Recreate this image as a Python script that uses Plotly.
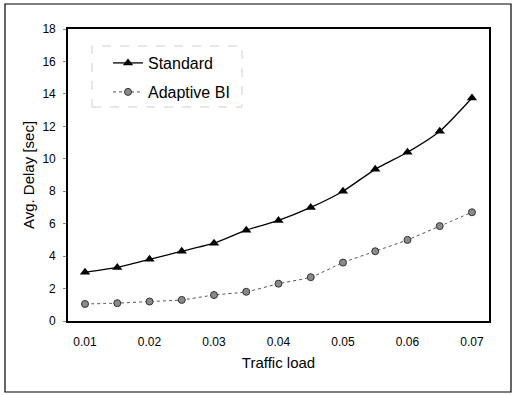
import plotly.graph_objects as go

traffic_load = [0.01, 0.015, 0.02, 0.025, 0.03, 0.035, 0.04, 0.045, 0.05, 0.055, 0.06, 0.065, 0.07]
standard = [3.0, 3.3, 3.8, 4.3, 4.8, 5.6, 6.2, 7.0, 8.0, 9.35, 10.4, 11.7, 13.75]
adaptive_bi = [1.05, 1.1, 1.2, 1.3, 1.6, 1.8, 2.3, 2.7, 3.6, 4.3, 5.0, 5.85, 6.7]
x_ticks = [0.01, 0.02, 0.03, 0.04, 0.05, 0.06, 0.07]
x_tick_labels = ["0.01", "0.02", "0.03", "0.04", "0.05", "0.06", "0.07"]
y_ticks = [0, 2, 4, 6, 8, 10, 12, 14, 16, 18]

L, R, T, B = 68, 23, 29, 74
PW, PH = 512 - L - R, 395 - T - B

def px_x(x):
    return (x - L) / PW

def px_y(y):
    return (395 - B - y) / PH

fig = go.Figure()
fig.add_trace(go.Scatter(
    x=traffic_load, y=standard, name="Standard", mode="lines+markers",
    line=dict(color="black", width=1.3, shape="spline", smoothing=0.6),
    marker=dict(symbol="triangle-up", size=9, color="black"),
    legend="legend",
))
fig.add_trace(go.Scatter(
    x=traffic_load, y=adaptive_bi, name="Adaptive BI", mode="lines+markers",
    line=dict(color="#555555", width=1, dash="dot", shape="spline", smoothing=0.6),
    marker=dict(symbol="circle", size=7, color="#8a8a8a", line=dict(color="#333333", width=1)),
    legend="legend2",
))

leg_common = dict(xanchor="left", yanchor="middle", borderwidth=0,
                  bgcolor="rgba(255,255,255,0)", font=dict(size=16), itemwidth=30)

fig.update_layout(
    width=512, height=395,
    margin=dict(l=L, r=R, t=T, b=B),
    paper_bgcolor="white", plot_bgcolor="white",
    font=dict(family="Liberation Sans, Arial, sans-serif", color="black", size=12),
    showlegend=True,
    legend=dict(x=px_x(108), y=px_y(63), **leg_common),
    legend2=dict(x=px_x(108), y=px_y(92), **leg_common),
    xaxis=dict(
        range=[0.00736, 0.07264], tickvals=x_ticks, ticktext=x_tick_labels,
        showgrid=False, zeroline=False, showline=True, linecolor="black", linewidth=1.6,
        mirror=True, ticks="", ticklabelstandoff=9, automargin=False,
        title=dict(text="Traffic load", font=dict(size=15), standoff=9),
    ),
    yaxis=dict(
        range=[0, 18], tickvals=y_ticks, showgrid=False, zeroline=False,
        showline=True, linecolor="black", linewidth=1.6, mirror=True,
        ticks="outside", ticklen=3, tickcolor="#888888", ticklabelstandoff=5,
        automargin=False,
        title=dict(text="Avg. Delay [sec]", font=dict(size=15), standoff=4),
    ),
)

# legend frame (faint dashed)
fig.add_shape(type="rect", xref="paper", yref="paper",
              x0=px_x(92), x1=px_x(242), y0=px_y(107), y1=px_y(46),
              line=dict(color="#cfcfcf", width=1, dash="dash"), fillcolor="rgba(0,0,0,0)")

# outer frame
fig.add_shape(type="rect", xref="paper", yref="paper",
              x0=px_x(5), x1=px_x(511), y0=px_y(392), y1=px_y(4),
              line=dict(color="black", width=1.2), fillcolor="rgba(0,0,0,0)", layer="below")

fig.write_html("out.html", config={"displayModeBar": False},
               post_script="document.body.style.margin='0';document.body.style.overflow='hidden';")
